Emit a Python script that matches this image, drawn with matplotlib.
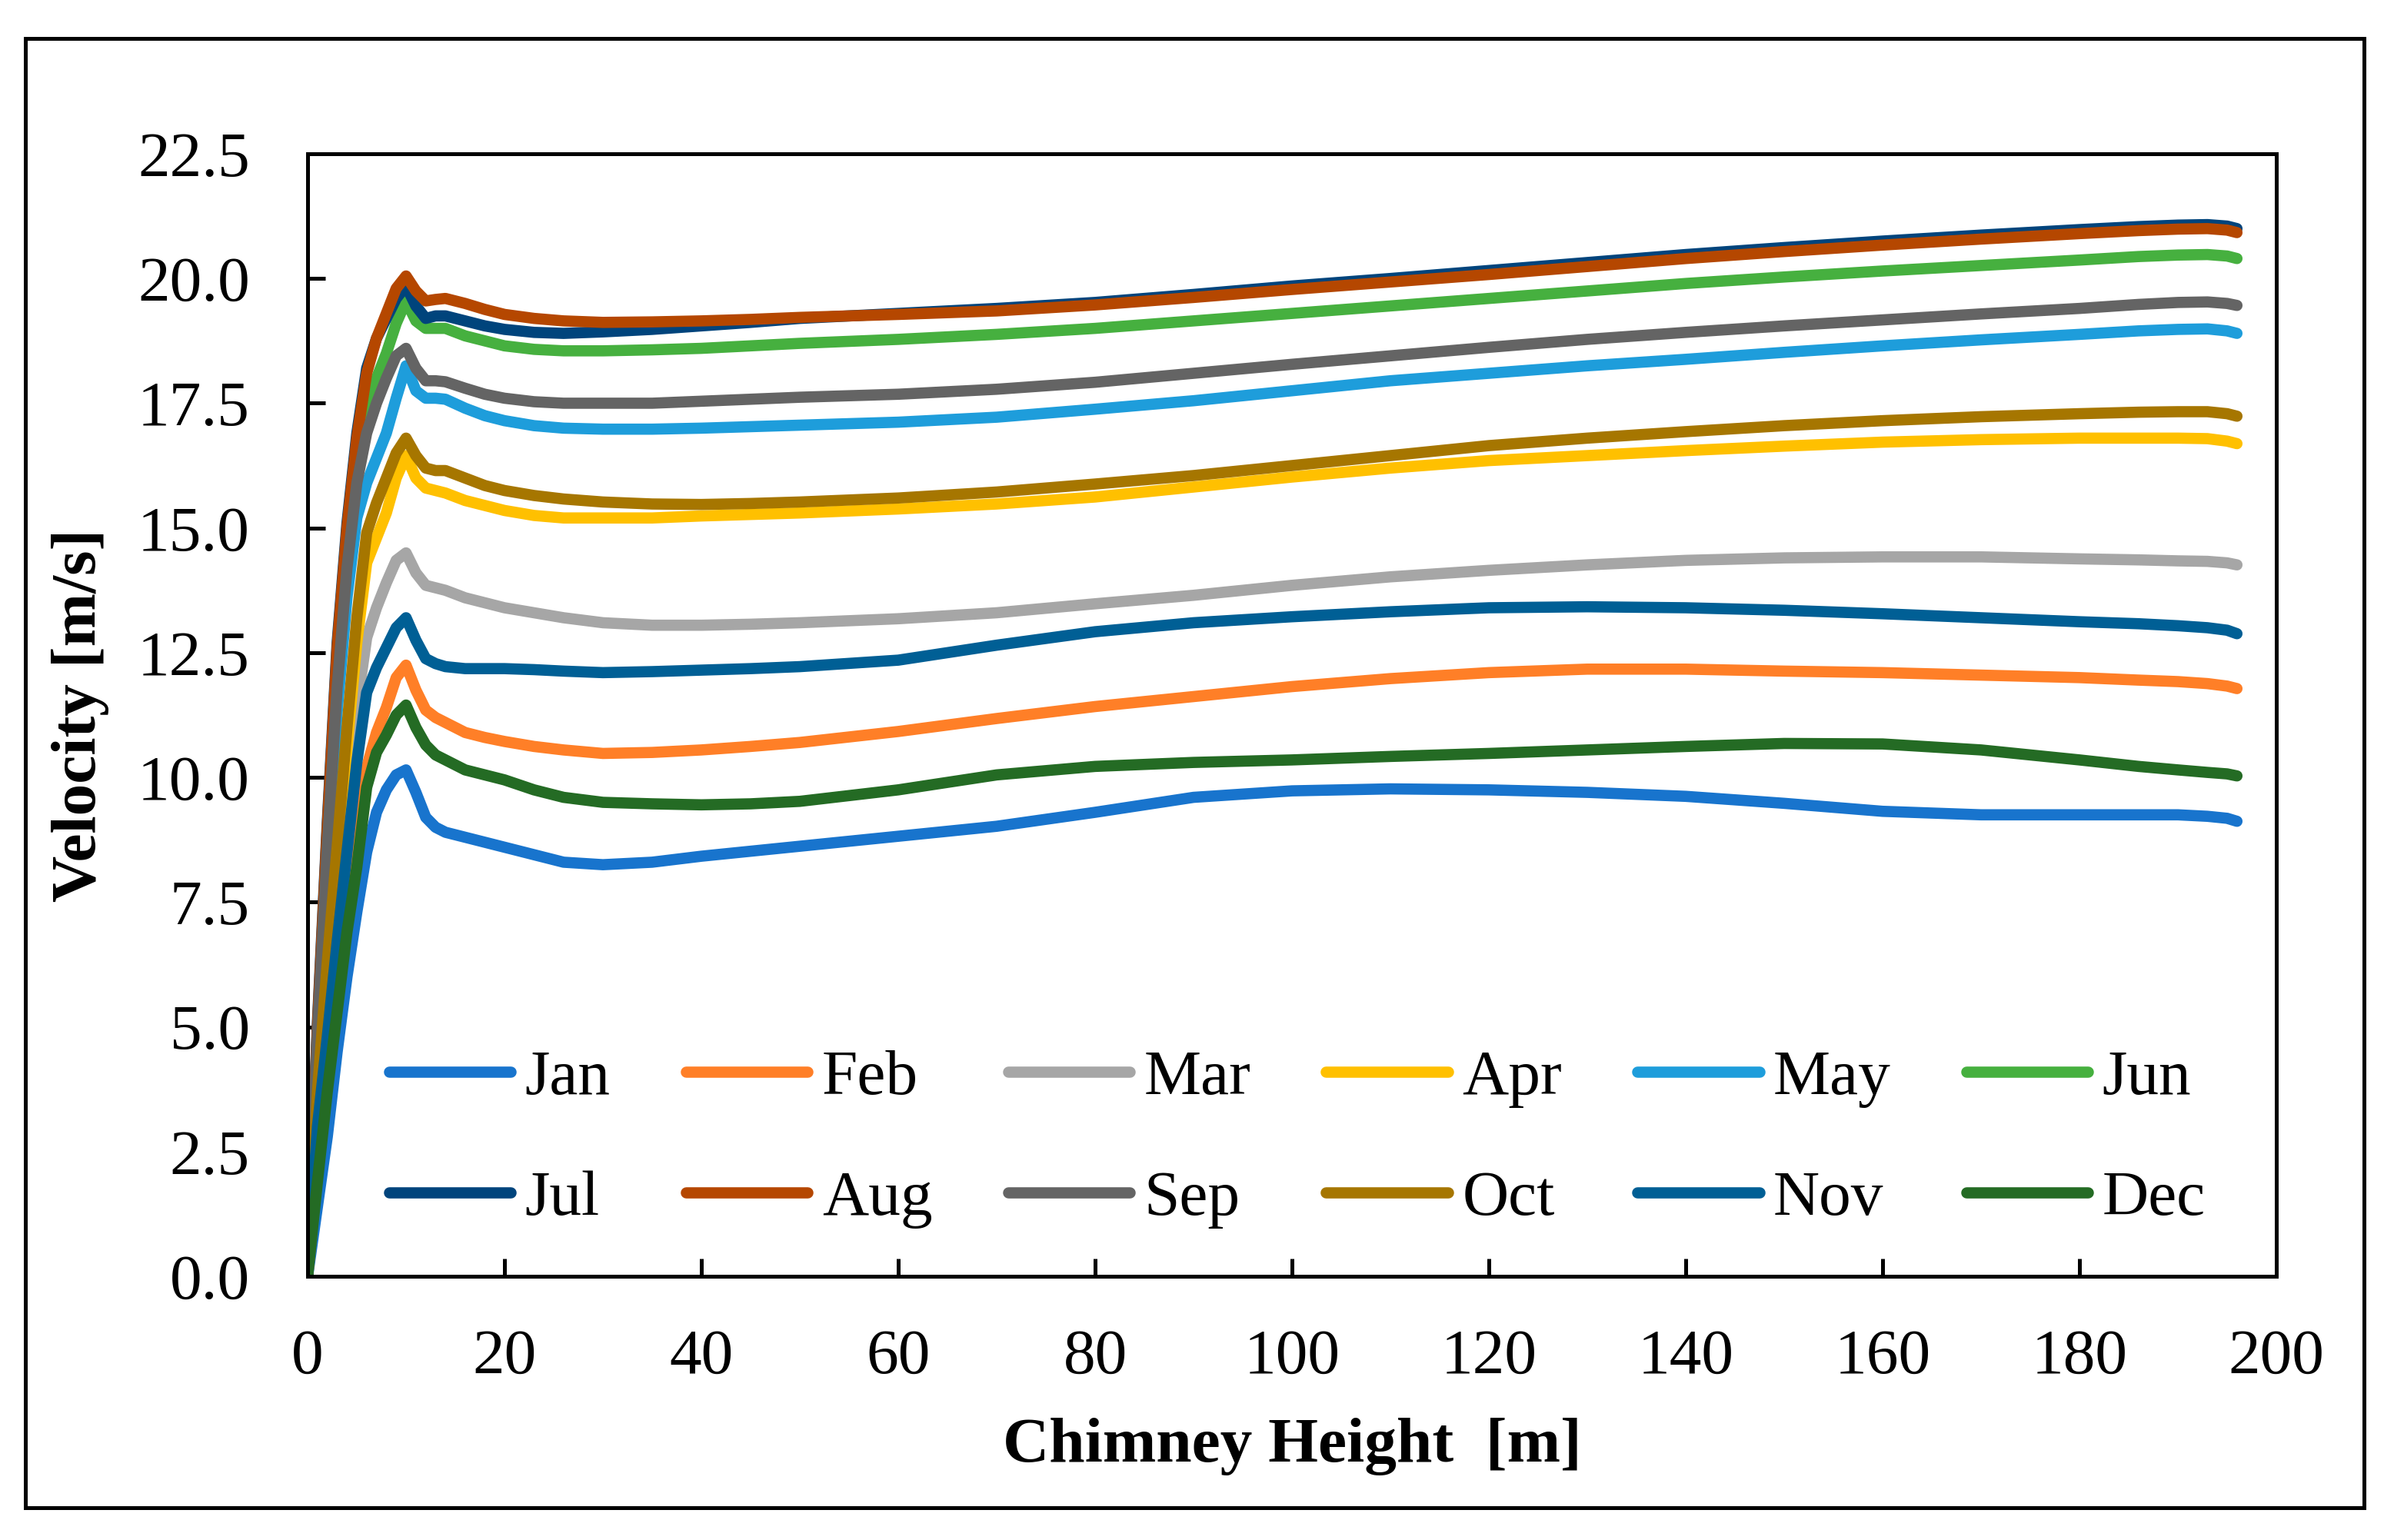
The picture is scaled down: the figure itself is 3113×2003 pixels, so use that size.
import matplotlib
matplotlib.use("Agg")
import matplotlib.pyplot as plt
from matplotlib.patches import Rectangle

# chimney height [m] where the curves were read
height = [0, 1, 2, 3, 4, 5, 6, 7, 8, 9, 10, 11, 12, 13, 14, 16, 18, 20, 23, 26, 30, 35,
          40, 45, 50, 60, 70, 80, 90, 100, 110, 120, 130, 140, 150, 160, 170, 180,
          186, 190, 193, 195, 196]

jan = [0, 1.4, 2.8, 4.5, 6.0, 7.3, 8.5, 9.3, 9.75, 10.05, 10.15, 9.7, 9.2, 9.0, 8.9, 8.8,
       8.7, 8.6, 8.45, 8.3, 8.25, 8.3, 8.42, 8.52, 8.62, 8.82, 9.02, 9.3, 9.6, 9.73, 9.77,
       9.75, 9.7, 9.62, 9.48, 9.32, 9.25, 9.25, 9.25, 9.25, 9.22, 9.18, 9.12]
feb = [0, 2.1, 4.0, 5.7, 7.3, 8.8, 10.2, 10.9, 11.4, 12.0, 12.25, 11.75, 11.35, 11.2, 11.1,
       10.9, 10.8, 10.72, 10.62, 10.55, 10.48, 10.5, 10.55, 10.62, 10.7, 10.92, 11.18, 11.42,
       11.62, 11.82, 11.98, 12.1, 12.17, 12.17, 12.13, 12.1, 12.05, 12.0, 11.95, 11.92,
       11.88, 11.83, 11.78]
mar = [0, 3.3, 5.6, 7.6, 9.5, 11.4, 12.8, 13.4, 13.9, 14.35, 14.5, 14.1, 13.85, 13.8, 13.75,
       13.6, 13.5, 13.4, 13.3, 13.2, 13.1, 13.05, 13.05, 13.07, 13.1, 13.18, 13.3, 13.48,
       13.65, 13.85, 14.02, 14.15, 14.26, 14.35, 14.4, 14.42, 14.42, 14.38, 14.36, 14.34,
       14.33, 14.3, 14.26]
apr = [0, 3.6, 6.1, 8.3, 10.6, 12.7, 14.3, 14.8, 15.3, 16.0, 16.45, 16.0, 15.8, 15.75, 15.7,
       15.55, 15.45, 15.35, 15.25, 15.2, 15.2, 15.2, 15.24, 15.27, 15.3, 15.38, 15.48, 15.62,
       15.82, 16.02, 16.2, 16.35, 16.45, 16.55, 16.64, 16.72, 16.77, 16.8, 16.8, 16.8,
       16.79, 16.74, 16.69]
may = [0, 4.5, 8.2, 11.3, 13.6, 15.2, 15.9, 16.4, 16.9, 17.6, 18.25, 17.75, 17.6, 17.6,
       17.58, 17.4, 17.25, 17.15, 17.05, 17.0, 16.98, 16.98, 17.0, 17.03, 17.06, 17.12, 17.22,
       17.38, 17.55, 17.75, 17.95, 18.1, 18.25, 18.38, 18.52, 18.65, 18.77, 18.88, 18.95,
       18.98, 18.99, 18.95, 18.9]
jun = [0, 4.9, 8.8, 12.3, 14.7, 16.4, 17.4, 18.0, 18.5, 19.1, 19.55, 19.15, 19.0, 19.0, 19.0,
       18.85, 18.75, 18.65, 18.58, 18.55, 18.55, 18.57, 18.6, 18.65, 18.7, 18.78, 18.88, 19.0,
       19.15, 19.3, 19.45, 19.6, 19.75, 19.9, 20.03, 20.15, 20.26, 20.37, 20.44, 20.47,
       20.48, 20.45, 20.4]
jul = [0, 5.1, 9.1, 12.7, 15.1, 16.9, 18.2, 18.8, 19.2, 19.6, 19.85, 19.45, 19.2, 19.25,
       19.25, 19.15, 19.05, 18.98, 18.92, 18.9, 18.93, 18.98, 19.05, 19.12, 19.2, 19.3, 19.4,
       19.52, 19.68, 19.85, 20.0, 20.16, 20.32, 20.48, 20.62, 20.75, 20.87, 20.98, 21.04,
       21.07, 21.08, 21.05, 21.0]
aug = [0, 5.0, 9.0, 12.6, 15.0, 16.8, 18.1, 18.8, 19.3, 19.8, 20.05, 19.75, 19.55, 19.58,
       19.6, 19.5, 19.38, 19.28, 19.2, 19.15, 19.12, 19.13, 19.15, 19.18, 19.22, 19.28, 19.35,
       19.47, 19.62, 19.78, 19.93, 20.08, 20.24, 20.4, 20.54, 20.67, 20.79, 20.9, 20.96,
       20.99, 21.0, 20.97, 20.92]
sep = [0, 4.8, 8.6, 11.8, 14.2, 15.9, 16.9, 17.5, 18.0, 18.45, 18.6, 18.2, 17.95, 17.95,
       17.93, 17.8, 17.68, 17.6, 17.53, 17.5, 17.5, 17.5, 17.54, 17.58, 17.62, 17.68, 17.78,
       17.92, 18.1, 18.28, 18.45, 18.62, 18.78, 18.92, 19.05, 19.17, 19.29, 19.4, 19.48,
       19.52, 19.53, 19.5, 19.46]
oct_ = [0, 3.7, 6.3, 8.6, 11.0, 13.2, 14.9, 15.5, 16.0, 16.5, 16.8, 16.45, 16.2, 16.15,
        16.15, 16.0, 15.85, 15.75, 15.65, 15.58, 15.52, 15.48, 15.47, 15.49, 15.52, 15.6,
        15.72, 15.88, 16.05, 16.25, 16.45, 16.65, 16.8, 16.93, 17.05, 17.15, 17.23, 17.29,
        17.32, 17.33, 17.33, 17.29, 17.24]
nov = [0, 3.0, 4.8, 6.7, 8.5, 10.3, 11.7, 12.2, 12.6, 13.0, 13.2, 12.75, 12.38, 12.28, 12.22,
       12.18, 12.18, 12.18, 12.16, 12.13, 12.1, 12.12, 12.15, 12.18, 12.22, 12.35, 12.65,
       12.92, 13.1, 13.22, 13.32, 13.4, 13.42, 13.4, 13.35, 13.28, 13.2, 13.12, 13.08, 13.04,
       13.0, 12.95, 12.88]
dec = [0, 1.9, 3.7, 5.3, 6.9, 8.2, 9.8, 10.5, 10.85, 11.25, 11.45, 11.0, 10.65, 10.45, 10.35,
       10.15, 10.05, 9.95, 9.75, 9.6, 9.5, 9.47, 9.45, 9.47, 9.52, 9.75, 10.05, 10.22, 10.3,
       10.35, 10.42, 10.48, 10.55, 10.62, 10.68, 10.67, 10.55, 10.35, 10.22, 10.15, 10.1,
       10.07, 10.03]

months = ["Jan", "Feb", "Mar", "Apr", "May", "Jun", "Jul", "Aug", "Sep", "Oct", "Nov", "Dec"]
series = [jan, feb, mar, apr, may, jun, jul, aug, sep, oct_, nov, dec]
colors = ["#1874CD", "#FF7F27", "#A6A6A6", "#FFC000", "#1E9DDB", "#46B03F",
          "#00447C", "#B54700", "#646464", "#A67600", "#005F95", "#246B24"]

plt.rcParams["font.family"] = ["Liberation Serif", "DejaVu Serif"]

fig = plt.figure(figsize=(3113 / 300, 2003 / 300), dpi=300)
ax = fig.add_axes([400 / 3113, 343 / 2003, 2560 / 3113, 1460 / 2003])

lines = []
for name, vals, c in zip(months, series, colors):
    ln, = ax.plot(height, vals, color=c, lw=3.5, label=name,
                  solid_capstyle="round", solid_joinstyle="round")
    lines.append(ln)

ax.set_xlim(0, 200)
ax.set_ylim(0, 22.5)
ax.set_xticks(range(0, 201, 20))
ax.set_yticks([i * 2.5 for i in range(10)])
ax.set_yticklabels([f"{i * 2.5:.1f}" for i in range(10)])

for s in ax.spines.values():
    s.set_linewidth(1.2)
ax.tick_params(direction="in", length=5.5, width=1.2, labelsize=20)
ax.tick_params(axis="y", pad=18)
ax.tick_params(axis="x", pad=16.5)

ax.set_xlabel("Chimney Height  [m]", fontsize=20, fontweight="bold", labelpad=9.6)
ax.set_ylabel("Velocity [m/s]", fontsize=20, fontweight="bold", labelpad=9)

# legend fills column by column, so interleave the two rows
order = [0, 6, 1, 7, 2, 8, 3, 9, 4, 10, 5, 11]
leg = ax.legend([lines[i] for i in order], [months[i] for i in order],
                ncol=6, loc="center left", bbox_to_anchor=(0.0414, 0.1225),
                frameon=False, fontsize=20, handlelength=1.9, handletextpad=0.22,
                columnspacing=1.18, labelspacing=0.97, borderpad=0, borderaxespad=0)
for line in leg.get_lines():
    line.set_linewidth(3.5)
    line.set_solid_capstyle("round")

# outer frame around the whole picture
fig.patches.append(Rectangle((32.5 / 3113, 42.5 / 2003), 3041.5 / 3113, 1911 / 2003,
                             transform=fig.transFigure, fill=False, lw=1.2,
                             edgecolor="black"))

fig.savefig("out.png", dpi=300)
